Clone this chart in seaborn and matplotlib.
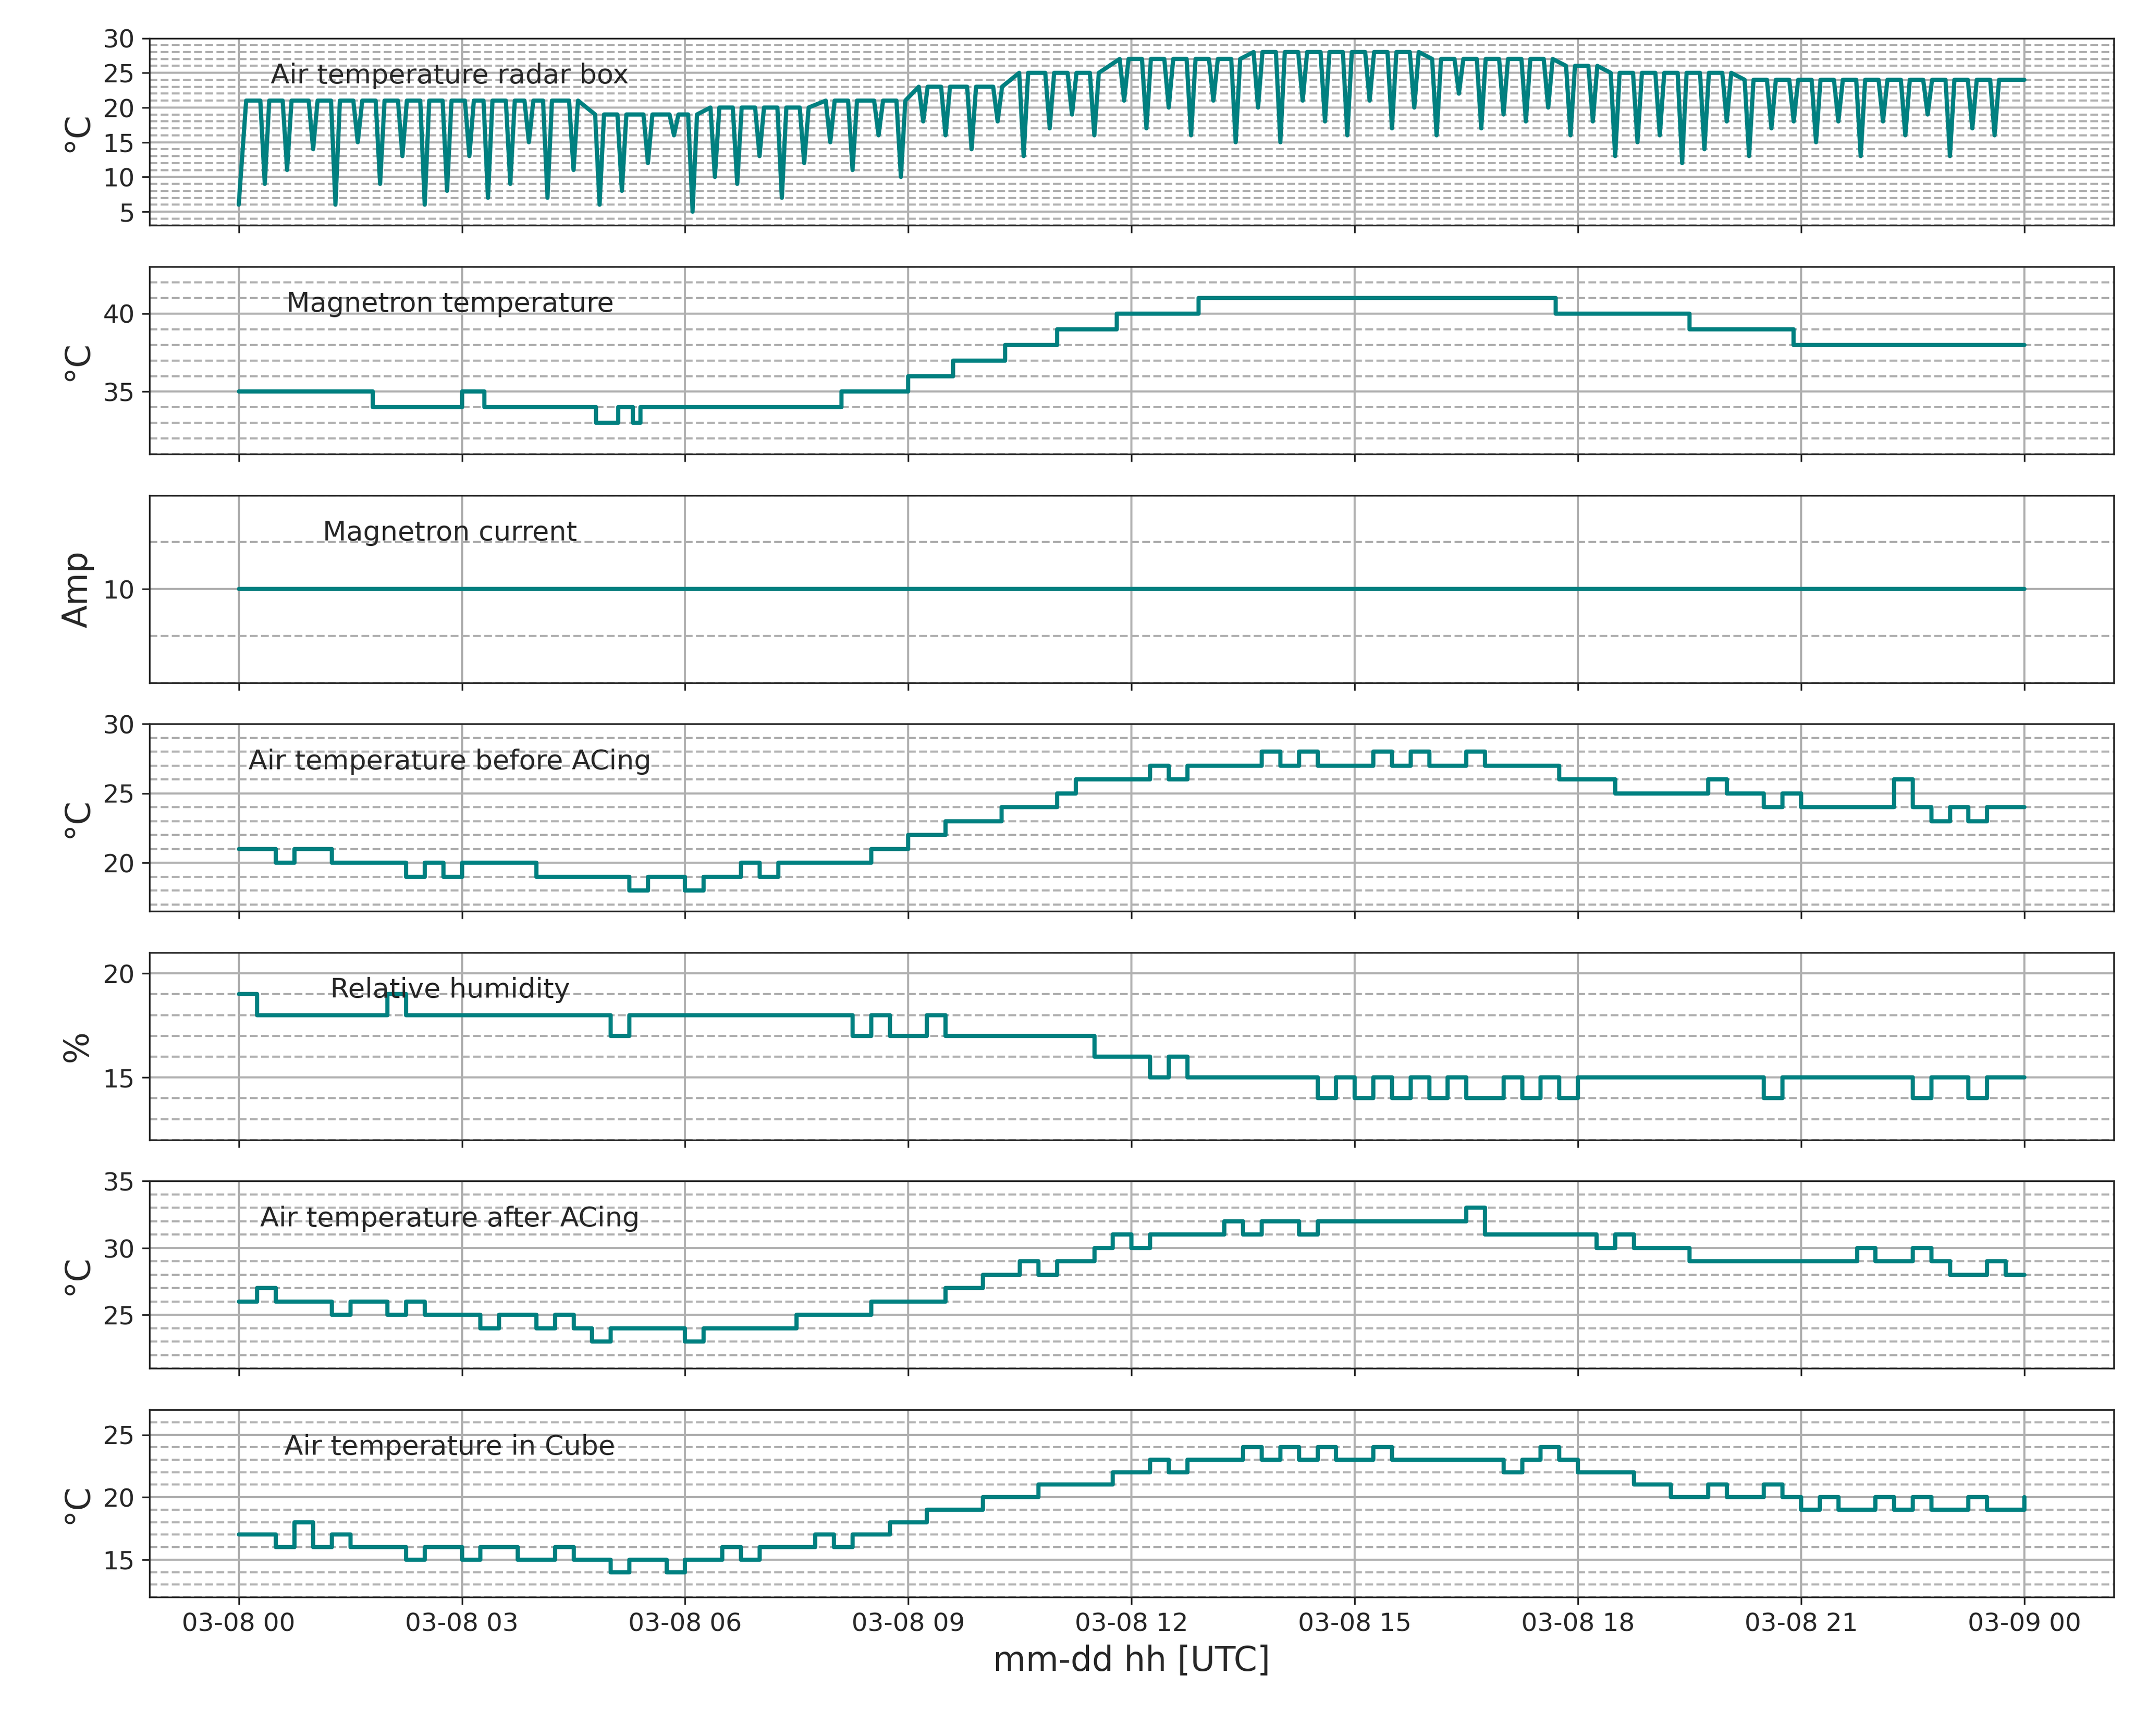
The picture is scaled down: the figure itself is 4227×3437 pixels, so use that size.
import numpy as np
import pandas as pd
import matplotlib
matplotlib.use('Agg')
import matplotlib.pyplot as plt
import matplotlib.dates as mdates
import seaborn as sns

# ── data (hours after 2024-03-08 00 UTC) ─────────────────────────────────────
radar_base_h = [0, 4.6, 6.3, 7.8, 9.0, 10.5, 11.8, 13.5, 16.0, 17.7, 18.5, 20.2, 24.0]
radar_base_v = [21, 19, 20, 21, 23, 25, 27, 28, 27, 26, 25, 24, 24]
radar_dip_h = [0.35, 0.65, 1.0, 1.3, 1.6, 1.9, 2.2, 2.5, 2.8, 3.1, 3.35, 3.65, 3.9, 4.15, 4.5,
               4.85, 5.15, 5.5, 5.85, 6.1, 6.4, 6.7, 7.0, 7.3, 7.6, 7.95, 8.25, 8.6, 8.9, 9.2,
               9.5, 9.85, 10.2, 10.55, 10.9, 11.2, 11.5, 11.9, 12.2, 12.5, 12.8, 13.1, 13.4,
               13.7, 14.0, 14.3, 14.6, 14.9, 15.2, 15.5, 15.8, 16.1, 16.4, 16.7, 17.0, 17.3,
               17.6, 17.9, 18.2, 18.5, 18.8, 19.1, 19.4, 19.7, 20.0, 20.3, 20.6, 20.9, 21.2,
               21.5, 21.8, 22.1, 22.4, 22.7, 23.0, 23.3, 23.6]
radar_dip_v = [9, 11, 14, 6, 15, 9, 13, 6, 8, 13, 7, 9, 15, 7, 11,
               6, 8, 12, 16, 5, 10, 9, 13, 7, 12, 15, 11, 16, 10, 18,
               16, 14, 18, 13, 17, 19, 16, 21, 17, 20, 16, 21, 15,
               20, 15, 21, 18, 16, 21, 17, 20, 16, 22, 17, 19, 18,
               20, 16, 18, 13, 15, 16, 12, 14, 18, 13, 17, 18, 15,
               18, 13, 18, 16, 19, 13, 17, 16]

mag_h = [0, 1.8, 3.0, 3.3, 4.8, 5.1, 5.3, 5.4, 8.1, 9.0, 9.6, 10.3, 11.0, 11.8, 12.9, 17.7, 19.5, 20.9, 24.0]
mag_v = [35, 34, 35, 34, 33, 34, 33, 34, 35, 36, 37, 38, 39, 40, 41, 40, 39, 38, 38]

current_h = [0, 24]
current_v = [10, 10]

# 15-minute values
before_ac = [21, 21, 20, 21, 21, 20, 20, 20, 20, 19, 20, 19, 20, 20, 20, 20,
             19, 19, 19, 19, 19, 18, 19, 19, 18, 19, 19, 20, 19, 20, 20, 20,
             20, 20, 21, 21, 22, 22, 23, 23, 23, 24, 24, 24, 25, 26, 26, 26,
             26, 27, 26, 27, 27, 27, 27, 28, 27, 28, 27, 27, 27, 28, 27, 28,
             27, 27, 28, 27, 27, 27, 27, 26, 26, 26, 25, 25, 25, 25, 25, 26,
             25, 25, 24, 25, 24, 24, 24, 24, 24, 26, 24, 23, 24, 23, 24, 24, 24]
humidity = [19, 18, 18, 18, 18, 18, 18, 18, 19, 18, 18, 18, 18, 18, 18, 18,
            18, 18, 18, 18, 17, 18, 18, 18, 18, 18, 18, 18, 18, 18, 18, 18,
            18, 17, 18, 17, 17, 18, 17, 17, 17, 17, 17, 17, 17, 17, 16, 16,
            16, 15, 16, 15, 15, 15, 15, 15, 15, 15, 14, 15, 14, 15, 14, 15,
            14, 15, 14, 14, 15, 14, 15, 14, 15, 15, 15, 15, 15, 15, 15, 15,
            15, 15, 14, 15, 15, 15, 15, 15, 15, 15, 14, 15, 15, 14, 15, 15, 15]
after_ac = [26, 27, 26, 26, 26, 25, 26, 26, 25, 26, 25, 25, 25, 24, 25, 25,
            24, 25, 24, 23, 24, 24, 24, 24, 23, 24, 24, 24, 24, 24, 25, 25,
            25, 25, 26, 26, 26, 26, 27, 27, 28, 28, 29, 28, 29, 29, 30, 31,
            30, 31, 31, 31, 31, 32, 31, 32, 32, 31, 32, 32, 32, 32, 32, 32,
            32, 32, 33, 31, 31, 31, 31, 31, 31, 30, 31, 30, 30, 30, 29, 29,
            29, 29, 29, 29, 29, 29, 29, 30, 29, 29, 30, 29, 28, 28, 29, 28, 28]
cube = [17, 17, 16, 18, 16, 17, 16, 16, 16, 15, 16, 16, 15, 16, 16, 15,
        15, 16, 15, 15, 14, 15, 15, 14, 15, 15, 16, 15, 16, 16, 16, 17,
        16, 17, 17, 18, 18, 19, 19, 19, 20, 20, 20, 21, 21, 21, 21, 22,
        22, 23, 22, 23, 23, 23, 24, 23, 24, 23, 24, 23, 23, 24, 23, 23,
        23, 23, 23, 23, 22, 23, 24, 23, 22, 22, 22, 21, 21, 20, 20, 21,
        20, 20, 21, 20, 19, 20, 19, 19, 20, 19, 20, 19, 19, 20, 19, 19, 20]

t0 = pd.Timestamp("2024-03-08 00:00")
def to_time(hours):
    return t0 + pd.to_timedelta(np.asarray(hours, dtype=float), unit="h")

# radar box sawtooth built from base levels and dips
rh, rv = [0.0, 0.1], [6, 21]
for h, v in zip(radar_dip_h, radar_dip_v):
    base = radar_base_v[np.searchsorted(radar_base_h, h, side="right") - 1]
    rh += [h - 0.06, h, h + 0.06]
    rv += [base, v, base]
rh.append(24.0)
rv.append(24)

q_hours = np.arange(97) * 0.25

panels = [
    (rh, rv, "°C", "Air temperature radar box", (3, 30), [5, 10, 15, 20, 25, 30], 1, None),
    (mag_h, mag_v, "°C", "Magnetron temperature", (31, 43), [35, 40], 1, "steps-post"),
    (current_h, current_v, "Amp", "Magnetron current", (0, 20), [10], 5, None),
    (q_hours, before_ac, "°C", "Air temperature before ACing", (16.5, 30), [20, 25, 30], 1, "steps-post"),
    (q_hours, humidity, "%", "Relative humidity", (12, 21), [15, 20], 1, "steps-post"),
    (q_hours, after_ac, "°C", "Air temperature after ACing", (21, 35), [25, 30, 35], 1, "steps-post"),
    (q_hours, cube, "°C", "Air temperature in Cube", (12, 27), [15, 20, 25], 1, "steps-post"),
]

sns.set_style("ticks")
plt.rcParams['font.family'] = ['DejaVu Sans']
fig, axes = plt.subplots(7, 1, figsize=(14.09, 11.457), dpi=300, sharex=True)

for ax, (hh, vv, ylab, title, ylim, yt, minor, ds) in zip(axes, panels):
    df = pd.DataFrame({"time": to_time(hh), "value": vv})
    sns.lineplot(data=df, x="time", y="value", ax=ax, color="teal", linewidth=2,
                 drawstyle=ds if ds else "default")
    ax.set_ylim(*ylim)
    ax.set_yticks(yt)
    mt = [m for m in np.arange(np.ceil(ylim[0]), ylim[1] + 0.01, minor) if m not in yt]
    ax.set_yticks(mt, minor=True)
    ax.tick_params(axis="y", which="minor", length=0)
    ax.tick_params(labelsize=12)
    ax.grid(True, which="major", color="#b0b0b0", linewidth=1)
    ax.grid(True, which="minor", axis="y", color="#b0b0b0", linestyle="--", linewidth=1)
    ax.set_ylabel(ylab, fontsize=16)
    ax.set_xlabel("")
    ax.text(0.153, 0.8, title, transform=ax.transAxes, ha="center", va="center", fontsize=13)

axes[-1].set_xlim(t0 - pd.Timedelta(hours=1.2), t0 + pd.Timedelta(hours=25.2))
axes[-1].xaxis.set_major_locator(mdates.HourLocator(byhour=range(0, 24, 3)))
axes[-1].xaxis.set_major_formatter(mdates.DateFormatter("%m-%d %H"))
axes[-1].set_xlabel("mm-dd hh [UTC]", fontsize=16)
fig.align_ylabels(axes)
plt.subplots_adjust(left=0.07, right=0.99, top=0.978, bottom=0.08, hspace=0.22)
plt.savefig("out.png", dpi=300)
